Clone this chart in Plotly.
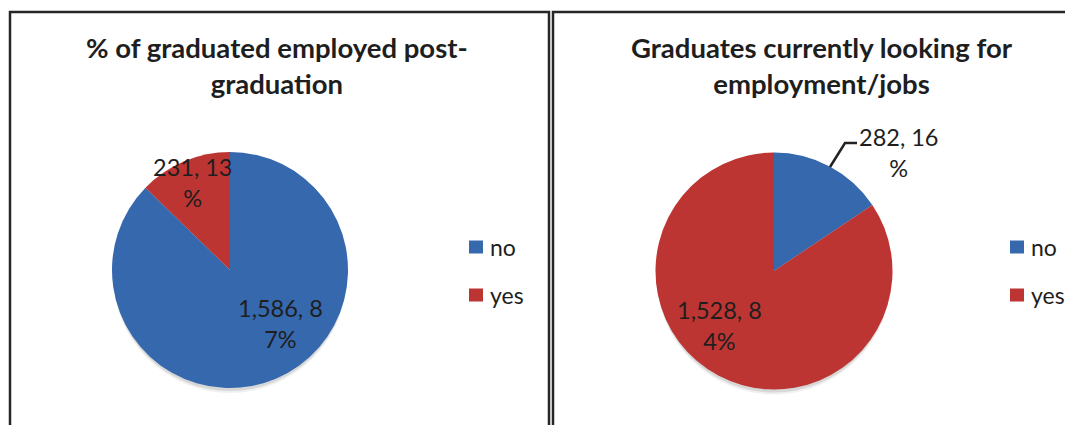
import plotly.graph_objects as go

W, H = 1065, 425

# ---- data ----
categories = ["no", "yes"]
employed_values = [1586, 231]
looking_values = [282, 1528]
employed_title = "% of graduated employed post-<br>graduation"
looking_title = "Graduates currently looking for<br>employment/jobs"
# characters kept on the first line of each wrapped data label
employed_wrap = [8, 7]
looking_wrap = [7, 8]

BLUE = "#3668AE"
RED = "#BD3533"
TEXT = "#1e1e1e"
FONT = "Lato"


def px(x):
    return x / W


def py(y):
    return 1 - y / H


def wrapped_labels(values, wrap):
    total = sum(values)
    out = []
    for v, n in zip(values, wrap):
        s = f"{v:,}, {round(100 * v / total)}%"
        out.append(s[:n] + "<br>" + s[n:])
    return out


def pie_domain(cx, cy, r):
    return dict(x=[px(cx - r), px(cx + r)], y=[py(cy + r), py(cy - r)])


fig = go.Figure()

panels = [
    dict(values=employed_values, wrap=employed_wrap, title=employed_title,
         cx=230, cy=270, r=118, title_x=277,
         label_pos=[(280, 323), (193, 182)], legend_x=469),
    dict(values=looking_values, wrap=looking_wrap, title=looking_title,
         cx=774, cy=271, r=118.5, title_x=822,
         label_pos=[(899, 152), (719, 325)], legend_x=1010),
]

shapes = []
annotations = []

for p in panels:
    fig.add_trace(go.Pie(
        labels=categories, values=p["values"], sort=False,
        direction="clockwise", rotation=0,
        marker=dict(colors=[BLUE, RED], line=dict(width=0)),
        textinfo="none", showlegend=False, hoverinfo="label+value+percent",
        domain=pie_domain(p["cx"], p["cy"], p["r"]),
    ))
    # soft drop shadow under the pie
    for off, col in [(5, "rgba(0,0,0,0.06)"), (3, "rgba(0,0,0,0.10)")]:
        shapes.append(dict(
            type="circle", xref="paper", yref="paper", layer="below",
            x0=px(p["cx"] - p["r"] + 1), x1=px(p["cx"] + p["r"] - 1),
            y0=py(p["cy"] + p["r"] + off), y1=py(p["cy"] - p["r"] + off),
            fillcolor=col, line=dict(width=0)))
    # title
    annotations.append(dict(
        x=px(p["title_x"]), y=py(65), xref="paper", yref="paper",
        xanchor="center", yanchor="middle",
        text=f"<b>{p['title']}</b>", showarrow=False, align="center",
        font=dict(family=FONT, size=27.5, color=TEXT)))
    # data labels
    for (lx, ly), t in zip(p["label_pos"], wrapped_labels(p["values"], p["wrap"])):
        annotations.append(dict(
            x=px(lx), y=py(ly), xref="paper", yref="paper", text=t,
            xanchor="center", yanchor="middle",
            showarrow=False, align="center",
            font=dict(family=FONT, size=23.5, color=TEXT)))
    # legend
    for (cat, col), ly in zip(zip(categories, [BLUE, RED]), [247, 295]):
        shapes.append(dict(
            type="rect", xref="paper", yref="paper",
            x0=px(p["legend_x"]), x1=px(p["legend_x"] + 14),
            y0=py(ly + 6.5), y1=py(ly - 6.5),
            fillcolor=col, line=dict(width=0)))
        annotations.append(dict(
            x=px(p["legend_x"] + 19), y=py(ly), xref="paper", yref="paper",
            text=cat, showarrow=False, xanchor="left", yanchor="middle",
            font=dict(family=FONT, size=23, color=TEXT)))

# leader line for the small slice label on the right pie
shapes.append(dict(
    type="path", xref="paper", yref="paper",
    path=f"M {px(830)} {py(167)} L {px(845)} {py(143)} L {px(857)} {py(143)}",
    line=dict(color="#222222", width=2.5)))

# panel frames
for x0, x1 in [(10, 549), (553, 1075)]:
    shapes.append(dict(
        type="rect", xref="paper", yref="paper",
        x0=px(x0), x1=px(x1), y0=py(440), y1=py(12),
        line=dict(color="#262626", width=2.5), fillcolor="rgba(0,0,0,0)"))

fig.update_layout(
    width=W, height=H,
    margin=dict(l=0, r=0, t=0, b=0),
    paper_bgcolor="white", plot_bgcolor="white",
    shapes=shapes, annotations=annotations,
)

fig.write_html("out.html")
